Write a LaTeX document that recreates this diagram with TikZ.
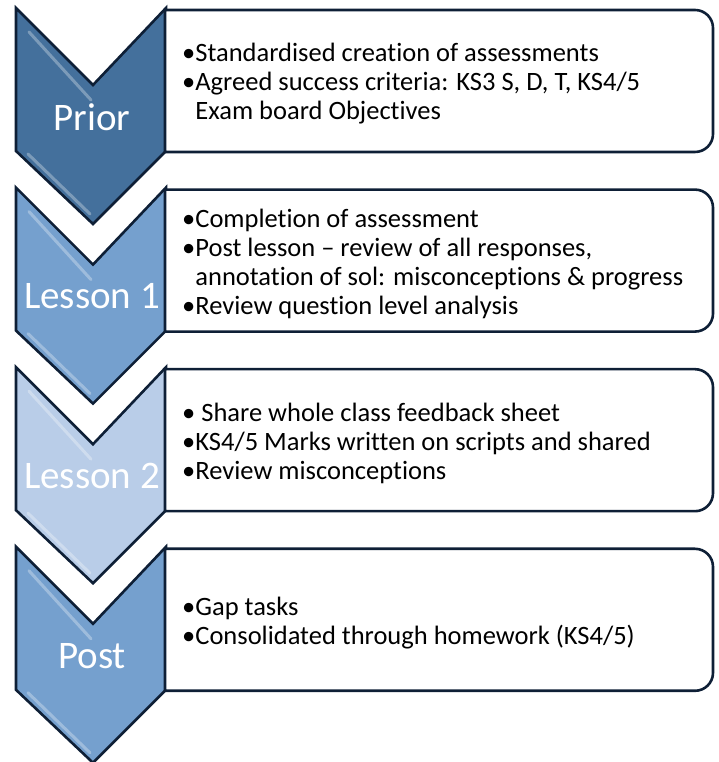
\documentclass[tikz,border=0pt]{standalone}
\usepackage{fontspec}
\setmainfont{Carlito}[Ligatures=NoCommon]
\definecolor{priorblue}{HTML}{44709C}
\definecolor{lessonblue}{HTML}{75A0CE}
\definecolor{paleblue}{HTML}{B9CDE8}
\definecolor{navy}{HTML}{0E1F36}
\tikzset{
    chevron/.style={draw=navy, line width=2.6pt, line join=miter},
    stagebox/.style={draw=navy, line width=2.6pt, fill=white},
    stagelabel/.style={text=white, inner sep=0pt,
        font=\fontsize{39}{41}\selectfont},
    stagetext/.style={anchor=west, align=left, inner sep=0pt,
        font=\fontsize{26.5}{29}\selectfont},
    gloss/.style={white, opacity=0.3, line width=3pt, line cap=round}
}
\begin{document}
\begin{tikzpicture}[x=1pt,y=1pt]

    \useasboundingbox (0,0) rectangle (718,762);

    \foreach \i/\col/\lab/\txt in {
        0/priorblue/Prior/{\textbullet Standardised creation of assessments\\
            \textbullet Agreed success criteria: KS3 S, D, T, KS4/5\\
            \phantom{\textbullet}Exam board Objectives},
        1/lessonblue/Lesson 1/{\textbullet Completion of assessment\\
            \textbullet Post lesson – review of all responses,\\
            \phantom{\textbullet}annotation of sol: misconceptions \& progress\\
            \textbullet Review question level analysis},
        2/paleblue/Lesson 2/{\textbullet{} Share whole class feedback sheet\\
            \textbullet KS4/5 Marks written on scripts and shared\\
            \textbullet Review misconceptions},
        3/lessonblue/Post/{\textbullet Gap tasks\\
            \textbullet Consolidated through homework (KS4/5)}}{
        \pgfmathsetmacro{\ytop}{754-179.6*\i}
        % chevron
        \draw[chevron, fill=\col] (16,\ytop) -- (93,\ytop-77) -- (166,\ytop)
            -- (166,\ytop-143) -- (93,\ytop-216) -- (16,\ytop-143) -- cycle;
        \draw[gloss] (29,\ytop-24) -- (91,\ytop-92);
        \draw[gloss] (28,\ytop-146) -- (90,\ytop-206);
        \node[stagelabel] (label\i) at (92,\ytop-109){\lab};
        % box
        \draw[stagebox] (165,\ytop-2) -- (695,\ytop-2)
            arc[start angle=90, end angle=0, radius=18] -- (713,\ytop-126)
            arc[start angle=0, end angle=-90, radius=18] -- (165,\ytop-144)
            -- cycle;
        \node[stagetext] (text\i) at (182,\ytop-76){\txt};
    }

\end{tikzpicture}
\end{document}
